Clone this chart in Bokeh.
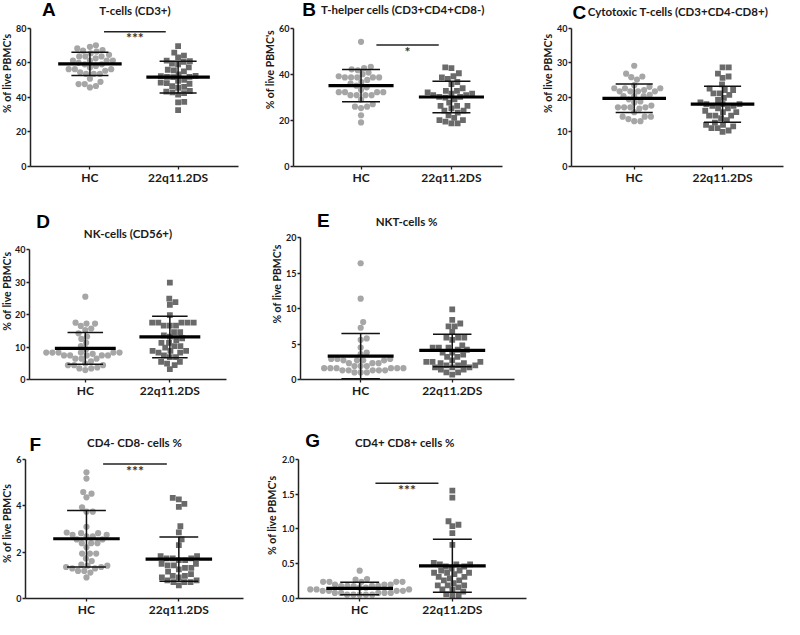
import math
import numpy as np
from bokeh.plotting import figure
from bokeh.models import FixedTicker, Spacer, ColumnDataSource, Range1d, NumeralTickFormatter
from bokeh.layouts import row, column
from bokeh.embed import file_html
from bokeh.resources import INLINE
from bokeh.core.properties import value

# ---------------- data ----------------
categories = ["HC", "22q11.2DS"]
panel_letters = ["A", "B", "C", "D", "E", "F", "G"]
panel_titles = ["T-cells (CD3+)", "T-helper cells (CD3+CD4+CD8-)",
                "Cytotoxic T-cells (CD3+CD4-CD8+)", "NK-cells (CD56+)",
                "NKT-cells %", "CD4- CD8- cells %", "CD4+ CD8+ cells %"]
y_label = "% of live PBMC's"
y_max = [80, 60, 40, 40, 20, 6, 2]
y_step = [20, 20, 10, 10, 5, 2, 0.5]

hc_A = [70.0, 69.1, 68.2, 67.3, 66.9, 66.4, 65.4, 64.5, 63.6, 63.6, 63.6, 62.5, 61.2, 61.2, 61.2,
        61.2, 59.9, 59.0, 59.0, 58.1, 57.2, 56.2, 56.2, 56.2, 55.3, 54.4, 53.5, 53.5, 53.5, 50.7,
        48.9, 47.6, 47.6, 46.5, 45.7]
q22_A = [69.5, 65.8, 64.1, 63.0, 61.2, 60.8, 60.4, 59.4, 59.0, 57.2, 55.9, 55.5, 55.0, 53.2, 52.3,
         52.2, 51.8, 51.8, 51.6, 50.0, 49.5, 48.5, 48.2, 47.8, 46.4, 46.0, 45.5, 43.6, 43.2, 42.8,
         42.4, 41.5, 37.3, 37.0, 32.6]
hc_B = [54.0, 43.2, 42.6, 42.1, 41.7, 40.7, 40.0, 39.1, 38.6, 38.6, 38.6, 38.6, 38.6, 37.5, 36.6,
        35.9, 35.0, 34.3, 33.2, 32.2, 32.2, 32.2, 32.2, 30.9, 30.9, 30.9, 30.9, 29.0, 27.0, 25.9,
        25.9, 25.3, 22.2, 19.1]
q22_B = [42.9, 42.6, 40.4, 39.1, 38.6, 37.9, 36.6, 35.7, 33.9, 32.8, 32.8, 32.1, 31.6, 31.6, 30.9,
         30.9, 30.2, 30.2, 29.8, 29.1, 27.7, 26.3, 26.3, 26.3, 25.2, 24.2, 24.2, 23.3, 22.2, 21.1,
         20.1, 20.1, 19.4, 18.7, 18.7]
hc_C = [29.1, 26.8, 26.0, 25.8, 25.1, 23.5, 23.0, 22.6, 22.6, 22.6, 22.1, 21.7, 21.7, 21.7, 21.7,
        20.7, 20.3, 20.3, 20.3, 19.4, 18.8, 18.5, 17.6, 17.1, 17.1, 17.1, 17.1, 16.7, 15.7, 14.4,
        14.4, 14.4, 13.7, 13.1, 13.1]
q22_C = [28.6, 28.6, 26.8, 26.0, 25.6, 23.7, 22.5, 22.1, 22.1, 21.1, 21.1, 20.7, 19.8, 19.2, 18.5,
         18.0, 18.0, 18.0, 17.5, 17.5, 16.8, 16.8, 16.1, 15.7, 15.7, 14.7, 14.7, 14.7, 14.0, 13.4,
         12.7, 12.0, 12.0, 11.6, 11.1, 11.1, 10.4, 10.0]
hc_D = [25.5, 17.5, 17.2, 17.2, 16.5, 15.7, 15.2, 14.2, 13.2, 12.5, 11.3, 10.3, 9.3, 8.3, 8.3,
        8.3, 8.3, 8.3, 8.3, 7.9, 7.4, 7.4, 7.4, 7.4, 7.4, 6.4, 6.4, 6.4, 5.6, 4.9, 4.4, 4.4, 4.4,
        3.7, 3.4, 3.4, 2.9]
q22_D = [29.8, 24.9, 23.8, 23.0, 19.8, 17.5, 17.5, 17.5, 17.5, 17.5, 16.6, 16.6, 16.6, 14.6, 14.6,
         13.6, 13.2, 12.7, 12.1, 11.3, 11.3, 10.3, 10.3, 9.8, 8.8, 8.8, 8.8, 8.3, 8.3, 7.4, 6.9,
         6.9, 5.4, 5.4, 4.9, 4.4, 3.2]
hc_E = [16.4, 11.4, 8.1, 7.3, 5.8, 5.6, 4.5, 3.8, 3.6, 2.9, 2.9, 2.9, 2.7, 2.7, 2.7, 2.7, 2.3, 2.3,
        2.3, 1.9, 1.9, 1.9, 1.6, 1.6, 1.6, 1.6, 1.6, 1.6, 1.3, 1.3, 1.3, 1.3, 1.3, 1.0, 1.0, 1.0]
q22_E = [9.9, 8.4, 7.9, 7.5, 7.5, 6.7, 5.9, 5.9, 5.9, 5.6, 4.8, 4.5, 4.5, 4.5, 4.2, 4.2, 3.8, 3.8,
         3.5, 3.2, 3.2, 2.7, 2.5, 2.5, 2.5, 2.3, 2.3, 2.0, 2.0, 2.0, 1.7, 1.7, 1.7, 1.4, 1.4, 1.0,
         1.0, 0.7]
hc_F = [5.45, 5.18, 4.6, 4.53, 4.37, 3.94, 3.75, 3.75, 3.1, 2.85, 2.82, 2.82, 2.75, 2.75, 2.68,
        2.68, 2.55, 2.55, 2.39, 2.39, 2.39, 2.21, 1.94, 1.94, 1.94, 1.73, 1.62, 1.46, 1.42, 1.42,
        1.36, 1.36, 1.30, 1.30, 1.19, 1.19, 1.12, 0.91]
q22_F = [4.35, 4.28, 4.09, 3.96, 3.12, 2.86, 2.55, 2.31, 1.83, 1.83, 1.73, 1.73, 1.73, 1.66, 1.66,
         1.5, 1.5, 1.43, 1.43, 1.32, 1.32, 1.26, 1.16, 1.05, 0.98, 0.98, 0.91, 0.91, 0.78, 0.78,
         0.71, 0.71, 0.71, 0.57]
hc_G = [0.40, 0.28, 0.27, 0.24, 0.24, 0.24, 0.24, 0.24, 0.20, 0.20, 0.20, 0.18, 0.18, 0.18, 0.18,
        0.18, 0.155, 0.155, 0.13, 0.13, 0.13, 0.11, 0.11, 0.11, 0.11, 0.08, 0.08, 0.08, 0.08, 0.08,
        0.055, 0.055, 0.055, 0.055, 0.055]
q22_G = [1.55, 1.45, 1.11, 1.06, 1.04, 0.94, 0.77, 0.51, 0.49, 0.49, 0.49, 0.46, 0.46, 0.43, 0.40,
         0.40, 0.37, 0.37, 0.37, 0.35, 0.31, 0.31, 0.29, 0.26, 0.26, 0.22, 0.19, 0.19, 0.19, 0.16,
         0.13, 0.13, 0.10, 0.06, 0.04, 0.04]

hc_values = [hc_A, hc_B, hc_C, hc_D, hc_E, hc_F, hc_G]
q22_values = [q22_A, q22_B, q22_C, q22_D, q22_E, q22_F, q22_G]

mean_hc = [59.3, 35.0, 19.7, 9.6, 3.3, 2.58, 0.145]
sd_hc = [6.7, 7.0, 4.1, 4.9, 3.2, 1.22, 0.09]
mean_22q = [51.6, 30.1, 18.0, 13.1, 4.1, 1.70, 0.47]
sd_22q = [9.2, 6.8, 5.2, 6.4, 2.3, 0.96, 0.38]

sig_text = ["***", "*", "", "", "", "***", "***"]
sig_from = [1.16, 1.17, 0, 0, 0, 1.18, 1.17]
sig_to = [1.86, 1.86, 0, 0, 0, 1.87, 1.85]
sig_level = [77.8, 52.6, 0, 0, 0, 5.81, 1.656]

# ---------------- layout (reference pixel boxes, scaled to the page) ----------------
W_REF, H_REF = 800, 635
W_OUT, H_OUT = 784, 619


def X(v):
    return int(round(v * W_OUT / W_REF))


def Y(v):
    return int(round(v * H_OUT / H_REF))


fig_boxes = [(0, 0, 262, 192), (262, 0, 542, 192), (542, 0, 800, 192),
             (0, 192, 262, 410), (262, 192, 542, 410),
             (0, 410, 262, 635), (262, 410, 542, 635)]
axis_boxes = [(26, 29, 243, 173), (296, 29, 512, 173), (580, 29, 799, 173),
              (25, 256, 231, 392), (303, 244, 525, 392),
              (26, 472, 248, 617), (303, 472, 537, 618)]
x_lo = [0.326, 0.253, 0.29, 0.34, 0.343, 0.34, 0.34]
x_hi = [2.685, 2.565, 2.69, 2.67, 2.68, 2.70, 2.80]
title_at = [(135, 11), (409, 10), (690, 12), (128, 239), (413, 227), (137, 454), (412, 454)]
letter_at = [(38, 10), (305, 10), (581, 12.5), (32, 226.5), (320, 226), (30, 456), (310, 452)]
ylabel_at = [(7, 84), (283, 80), (558, 84), (7, 310), (284, 302), (9, 550), (282, 541)]
tick_space = [12, 14, 14, 12, 14, 12, 19]

TXT = "#1a1a1a"
FONT = "Lato"


def swarm(vals, px_x, px_y, d):
    vals = np.asarray(vals, dtype=float)
    order = np.argsort(vals, kind="stable")
    placed = []
    offs = np.zeros(len(vals))
    for i in order:
        yv = vals[i] * px_y
        near = [(yy, xx) for yy, xx in placed if abs(yy - yv) < d]
        cands = [0.0]
        for yy, xx in near:
            dx = math.sqrt(max(d * d - (yy - yv) ** 2, 0.0))
            cands += [xx + dx, xx - dx]
        cands.sort(key=lambda c: (round(abs(c), 6), -c))
        for c in cands:
            if all((c - xx) ** 2 + (yv - yy) ** 2 >= d * d - 1e-6 for yy, xx in near):
                offs[i] = c / px_x
                placed.append((yv, c))
                break
    return offs


def make_panel(i):
    fx0, fy0, fx1, fy1 = fig_boxes[i]
    rx0, ry0, rx1, ry1 = axis_boxes[i]
    w = X(fx1) - X(fx0)
    h = Y(fy1) - Y(fy0)
    lw = X(rx0) - X(fx0) - tick_space[i]      # strip that carries the y-axis label
    br = X(fx1) - X(rx1)
    bb = Y(fy1) - Y(ry1)
    lo, hi, ymax = x_lo[i], x_hi[i], y_max[i]

    def yref(v):   # reference pixel row -> data value
        return ymax * (ry1 - v) / (ry1 - ry0)

    def xref(v):   # reference pixel column -> data value
        return lo + (v - rx0) / (rx1 - rx0) * (hi - lo)

    # ---- y-label strip ----
    s = figure(width=lw, height=h, x_range=Range1d(0, lw), y_range=Range1d(h, 0),
               output_backend="svg", toolbar_location=None, x_axis_type=None, y_axis_type=None,
               min_border_left=0, min_border_right=0, min_border_top=0, min_border_bottom=0)
    s.outline_line_color = None
    s.grid.visible = False
    yx, yy = ylabel_at[i]
    cx = max(6.6, min(X(yx) - X(fx0), lw - 7))
    lab = ColumnDataSource(dict(x=[cx], y=[Y(yy) - Y(fy0)], t=[y_label]))
    s.text(x="x", y="y", text="t", source=lab, angle=math.pi / 2, text_align="center",
           text_baseline="middle", text_font=value(FONT), text_font_size=value("10.5px"),
           text_font_style="bold", text_color=TXT)

    # ---- main plot ----
    y_end = ymax * (Y(ry1) - Y(fy0)) / (Y(ry1) - Y(ry0))
    fw = w - lw - tick_space[i] - br
    px_x = fw / (hi - lo)
    px_y = (Y(ry1) - Y(ry0)) / ymax

    p = figure(width=w - lw, height=h, x_range=Range1d(lo, hi), y_range=Range1d(0, y_end),
               output_backend="svg", toolbar_location=None,
               min_border_left=tick_space[i], min_border_right=br, min_border_top=0,
               min_border_bottom=bb)
    p.outline_line_color = None
    p.grid.visible = False
    p.background_fill_color = "white"
    p.border_fill_color = "white"

    for ax in (p.xaxis[0], p.yaxis[0]):
        ax.axis_line_width = 1.5
        ax.axis_line_color = "#222222"
        ax.major_tick_line_width = 1.3
        ax.major_tick_line_color = "#222222"
        ax.major_tick_in = 0
        ax.major_tick_out = 3
        ax.minor_tick_line_color = None
        ax.major_label_text_font = FONT
        ax.major_label_text_font_style = "bold"
        ax.major_label_text_color = TXT

    p.xaxis.ticker = FixedTicker(ticks=[1, 2])
    p.xaxis.major_label_overrides = {1: categories[0], 2: categories[1]}
    p.xaxis.major_label_text_font_size = "12px"
    p.xaxis.major_label_standoff = 0

    ticks = [round(k * y_step[i], 3) for k in range(int(round(ymax / y_step[i])) + 1)]
    p.yaxis.ticker = FixedTicker(ticks=ticks)
    p.yaxis.bounds = (0, ymax)
    p.yaxis.formatter = NumeralTickFormatter(format="0.0" if y_step[i] < 1 else "0")
    p.yaxis.major_label_text_font_size = "9px"
    p.yaxis.major_label_standoff = 1

    hc = hc_values[i]
    q = q22_values[i]
    d = 6.3
    src_hc = ColumnDataSource(dict(x=1 + swarm(hc, px_x, px_y, d), y=hc))
    src_q = ColumnDataSource(dict(x=2 + swarm(q, px_x, px_y, d), y=q))
    p.scatter("x", "y", source=src_hc, marker="circle", size=6.2,
              fill_color="#a6a6a6", line_color=None)
    p.scatter("x", "y", source=src_q, marker="square", size=5.8,
              fill_color="#6a6a6a", line_color=None)

    pos = [1, 2]
    means = [mean_hc[i], mean_22q[i]]
    sds = [sd_hc[i], sd_22q[i]]
    lows = [m - sd for m, sd in zip(means, sds)]
    highs = [m + sd for m, sd in zip(means, sds)]
    stat = ColumnDataSource(dict(
        x=pos, mean=means, low=lows, high=highs,
        mx0=[v - 0.36 for v in pos], mx1=[v + 0.36 for v in pos],
        cx0=[v - 0.21 for v in pos], cx1=[v + 0.21 for v in pos]))
    p.segment(x0="x", x1="x", y0="low", y1="high", source=stat, line_width=1.5, line_color="#111111")
    p.segment(x0="cx0", x1="cx1", y0="low", y1="low", source=stat, line_width=1.5, line_color="#111111")
    p.segment(x0="cx0", x1="cx1", y0="high", y1="high", source=stat, line_width=1.5, line_color="#111111")
    p.segment(x0="mx0", x1="mx1", y0="mean", y1="mean", source=stat, line_width=3.2, line_color="#000000")

    if sig_text[i]:
        sig = ColumnDataSource(dict(x0=[sig_from[i]], x1=[sig_to[i]], y=[sig_level[i]],
                                    xm=[(sig_from[i] + sig_to[i]) / 2], t=[sig_text[i]]))
        p.segment(x0="x0", x1="x1", y0="y", y1="y", source=sig, line_width=1.5, line_color="#222222")
        p.text(x="xm", y="y", text="t", source=sig, text_align="center",
               text_baseline="alphabetic", y_offset=6,
               text_font=value(FONT), text_font_size=value("14px"), text_font_style="bold",
               text_color="#333333")

    # panel title and panel letter, placed above the axis inside the plot area
    tx, ty = title_at[i]
    lx, ly = letter_at[i]
    head = ColumnDataSource(dict(tx=[xref(tx)], ty=[yref(ty)], t=[panel_titles[i]],
                                 lx=[xref(lx)], ly=[yref(ly)], l=[panel_letters[i]]))
    p.text(x="tx", y="ty", text="t", source=head, text_align="center", text_baseline="middle",
           text_font=value(FONT), text_font_size=value("11.5px"), text_font_style="bold",
           text_color=TXT)
    p.text(x="lx", y="ly", text="l", source=head, text_align="left", text_baseline="middle",
           text_font=value("Liberation Sans"), text_font_size=value("19px"),
           text_font_style="bold", text_color="#000000")
    return row(s, p)


panels = [make_panel(i) for i in range(7)]
sp1 = Spacer(width=X(800) - X(542), height=Y(410) - Y(192))
sp2 = Spacer(width=X(800) - X(542), height=Y(635) - Y(410))

layout = column(row(panels[0], panels[1], panels[2]),
                row(panels[3], panels[4], sp1),
                row(panels[5], panels[6], sp2))

open("out.html", "w").write(file_html(layout, INLINE))
